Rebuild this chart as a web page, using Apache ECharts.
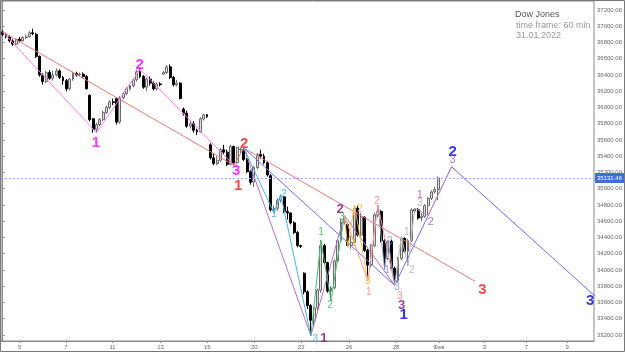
<!DOCTYPE html>
<html>
<head>
<meta charset="utf-8">
<script src="https://cdn.jsdelivr.net/npm/echarts@6/dist/echarts.min.js"></script>
<style>
html,body{margin:0;padding:0;background:#fff;}
#chart{width:625px;height:352px;}
</style>
</head>
<body>
<div id="chart"></div>
<script>
var chart = echarts.init(document.getElementById('chart'));

// hourly bars, index = bar number
var opens = [
36930,36900,36870,36820,36780,36840,36820,36860,36870,36920,
36900,36630,36400,36320,36430,36360,36400,36450,36370,36330,
36230,36350,36420,36400,36410,36380,36150,35860,35730,35790,
35850,35940,36000,36070,36110,35820,36120,36170,36230,36270,
36340,36440,36380,36250,36350,36300,36230,36290,36410,36430,
36500,36370,36280,36300,35980,35930,35770,35800,35720,35700,
35860,35910,35540,35380,35310,35350,35480,35450,35300,35520,
35320,35480,35480,35360,35210,35080,35260,35420,35400,35320,
35160,34740,34760,34860,34900,34720,34700,34580,34460,34300,
33960,33730,33560,33380,33530,33750,34300,34090,33740,33780,
34110,34360,34590,34560,34300,34340,34760,34430,34650,34240,
34060,34300,34680,34720,34360,34140,34350,34020,33870,34140,
34390,34230,34360,34740,34740,34640,34660,34790,34880,34960,
34990];
var closes = [
36900,36870,36820,36780,36840,36820,36860,36870,36920,36910,
36630,36400,36320,36430,36360,36400,36450,36370,36330,36230,
36350,36420,36400,36410,36380,36230,35850,35730,35790,35850,
35940,36000,36070,36060,35820,36120,36170,36230,36270,36340,
36440,36380,36250,36350,36300,36230,36290,36280,36430,36500,
36370,36280,36300,36110,35930,35770,35800,35720,35700,35860,
35910,35890,35380,35310,35350,35480,35450,35300,35520,35320,
35510,35490,35360,35210,35080,35260,35420,35400,35320,35170,
34740,34760,34860,34900,34720,34700,34580,34460,34300,34290,
33730,33560,33380,33530,33750,34300,34090,33740,33780,34110,
34360,34590,34600,34300,34340,34760,34430,34650,34240,34060,
34300,34680,34720,34360,34140,34350,34020,33870,34140,34390,
34230,34360,34740,34730,34640,34660,34790,34880,34960,34990,
35131.46];
var lows = [
36880,36850,36800,36760,36770,36800,36810,36840,36860,36890,
36610,36380,36280,36300,36340,36330,36380,36350,36280,36200,
36210,36330,36380,36380,36360,36220,35830,35690,35690,35770,
35830,35920,35980,36030,35790,35800,36100,36150,36210,36250,
36320,36360,36230,36200,36270,36210,36210,36260,36400,36410,
36350,36260,36260,36100,35900,35750,35740,35690,35660,35690,
35840,35870,35360,35290,35290,35330,35430,35280,35290,35290,
35300,35440,35340,35190,35050,35020,35240,35370,35300,35150,
34720,34700,34730,34830,34700,34620,34560,34440,34280,34270,
33700,33520,33190,33300,33500,33720,34070,33720,33620,33760,
34090,34340,34560,34280,34260,34320,34410,34400,34220,33870,
34030,34280,34650,34340,34000,34120,34000,33810,33850,34120,
34210,34050,34340,34700,34620,34600,34640,34670,34860,34940,
34860];
var highs = [
36950,36920,36890,36840,36850,36870,36880,36900,36940,36970,
36920,36640,36420,36450,36460,36450,36480,36470,36390,36350,
36360,36440,36440,36430,36430,36400,36160,35870,35810,35870,
35960,36020,36090,36110,36120,36140,36190,36250,36290,36360,
36460,36480,36400,36370,36380,36320,36310,36310,36450,36520,
36530,36390,36340,36310,36000,35960,35840,35830,35740,35880,
35920,35920,35560,35440,35400,35500,35540,35480,35540,35530,
35520,35500,35500,35380,35230,35280,35440,35480,35430,35340,
35180,34790,34880,34930,34910,34780,34710,34600,34480,34310,
33970,33750,33580,33550,33770,34370,34320,34100,33800,34130,
34380,34620,34670,34580,34420,34800,34790,34700,34660,34260,
34320,34700,34800,34740,34380,34370,34370,34040,34160,34410,
34400,34380,34760,34760,34760,34700,34810,34900,34980,35020,
35150];
var lastPrice = 35131.46;

var xTickPos = [5.1,18.9,32.8,47.1,61.1,75.1,89.1,103.4,117.4,130.2,143.8,156.3,168.5];
var xTickText = ['5','7','11','13','15','20','22','26','28','Фев','3','7','9'];
var yTicks = [33200,33400,33600,33800,34000,34200,34400,34600,34800,35000,35200,35400,35600,35800,36000,36200,36400,36600,36800,37000,37200];

// wave lines: [bar, price]
var redWave     = [[0,36930],[69,35290],[72,35500],[141,33860]];
var magentaWave = [[0,36930],[28,35690],[41,36470],[69,35290]];
var blueWave    = [[72,35500],[117,33810],[134,35270],[179.3,33585]];
var purpleWave  = [[72,35500],[92,33190],[102,34670],[117,33810]];
var cyanWave    = [[72,35500],[81,34700],[83,34930],[92,33190]];
var greenWave   = [[92,33190],[95,34365],[98,33620],[102,34670]];
var orangeWave  = [[102,34670],[103,34280],[105,34800],[109,33870]];
var salmonWave  = [[102,34670],[109,33870],[112,34800],[117,33810]];
var slateWave   = [[112,34800],[114,34000],[115,34370],[117,33810]];
var grayWave    = [[117,33810],[119,34410],[121,34050],[123,34760]];
var lilacWave   = [[123,34760],[127,34670],[134,35270]];

// wave numbers: [bar, price, text]
var magentaLabels = [[27.8,35566,'1'],[40.9,36519,'2'],[69.7,35219,'3']];
var redLabels     = [[70.3,35034,'1'],[72.1,35554,'2'],[143.2,33758,'3']];
var blueLabels    = [[119.7,33449,'1'],[134.3,35454,'2'],[175.4,33622,'3']];
var purpleLabels  = [[95.9,33152,'1'],[100.7,34749,'2'],[119.1,33560,'3']];
var cyanLabels    = [[81.0,34687,'1'],[84.0,34935,'2'],[93.3,33152,'3']];
var greenLabels   = [[95.0,34464,'1'],[97.7,33560,'2'],[101.3,34650,'3']];
var orangeLabels  = [[104.9,34328,'1'],[106.6,34749,'2'],[109.0,33857,'3']];
var salmonLabels  = [[109.3,33722,'1'],[111.7,34848,'2'],[118.5,33672,'3']];
var slateLabels   = [[114.7,33994,'1'],[115.6,34353,'2'],[117.7,33783,'3']];
var grayLabels    = [[120.6,34464,'1'],[122.1,33994,'2'],[124.5,34823,'3']];
var lilacLabels   = [[124.5,34922,'1'],[127.8,34588,'2'],[134.3,35355,'3']];

var candles = opens.map(function (o, i) {
    return [i, o, closes[i], lows[i], highs[i]];
});

function waveLine(pts, color) {
    return {
        type: 'line', data: pts, symbol: 'none', clip: false, silent: true,
        lineStyle: {color: color, width: 1}, z: 3
    };
}
function waveText(lbls, color, size, bold) {
    return {
        type: 'scatter', data: lbls, symbolSize: 0, silent: true, z: 5, clip: false,
        label: {
            show: true, position: 'inside', color: color, fontSize: size,
            fontWeight: bold ? 'bold' : 'normal', fontFamily: 'Liberation Sans',
            formatter: function (p) { return p.data[2]; }
        }
    };
}

var option = {
    animation: false,
    backgroundColor: '#fff',
    grid: {left: 1, right: 28, top: 1, bottom: 11, show: true, borderColor: '#888', borderWidth: 1},
    xAxis: {
        type: 'value', min: -0.5, max: 176.5,
        splitLine: {show: false},
        axisLine: {lineStyle: {color: '#888'}},
        axisTick: {customValues: xTickPos, length: 2, lineStyle: {color: '#888'}},
        axisLabel: {
            customValues: xTickPos, fontSize: 6, color: '#666', margin: 3,
            fontFamily: 'Liberation Sans',
            formatter: function (v) {
                var k = xTickPos.indexOf(v);
                return k >= 0 ? xTickText[k] : '';
            }
        }
    },
    yAxis: {
        type: 'value', position: 'right', min: 33125, max: 37311, scale: true,
        splitLine: {show: false},
        axisLine: {show: true, lineStyle: {color: '#888'}},
        axisTick: {show: true, customValues: yTicks, length: 2, lineStyle: {color: '#888'}},
        axisLabel: {
            customValues: yTicks, fontSize: 6, color: '#666', margin: 3,
            fontFamily: 'Liberation Sans',
            formatter: function (v) { return v.toFixed(2); }
        }
    },
    graphic: [
        {type: 'rect', shape: {x: 0.5, y: 0.5, width: 624, height: 351}, style: {fill: 'none', stroke: '#777'}, silent: true},
        {type: 'text', left: 515, top: 10, style: {text: 'Dow Jones', fill: '#555', fontSize: 9, fontFamily: 'Liberation Sans'}},
        {type: 'text', left: 516, top: 21, style: {text: 'time frame: 60 min', fill: '#999', fontSize: 9, fontFamily: 'Liberation Sans'}},
        {type: 'text', left: 516, top: 31, style: {text: '31.01.2022', fill: '#999', fontSize: 9, fontFamily: 'Liberation Sans'}}
    ],
    series: [
        {
            type: 'candlestick', data: candles, barWidth: 2.4, z: 2,
            itemStyle: {color: '#dcdcdc', borderColor: '#6c6c6c', color0: '#000', borderColor0: '#000', borderWidth: 1},
            markLine: {
                symbol: 'none', silent: true,
                lineStyle: {color: '#8fa8ff', type: [2, 2], width: 1},
                label: {
                    position: 'end', distance: 1, formatter: lastPrice.toFixed(2),
                    color: '#fff', backgroundColor: '#3c6fd8', fontSize: 6, padding: [2, 2],
                    fontFamily: 'Liberation Sans'
                },
                data: [{yAxis: lastPrice}]
            }
        },
        waveLine(redWave, '#f07777'),
        waveLine(magentaWave, '#ff77ff'),
        waveLine(blueWave, '#6b6bff'),
        waveLine(purpleWave, '#b070c8'),
        waveLine(cyanWave, '#44b4f0'),
        waveLine(greenWave, '#44c070'),
        waveLine(orangeWave, '#ffc040'),
        waveLine(salmonWave, '#ff9a9a'),
        waveLine(slateWave, '#8c9cd0'),
        waveLine(grayWave, '#bbbbbb'),
        waveLine(lilacWave, '#c08ac0'),
        waveText(magentaLabels, '#ff00ff', 15, true),
        waveText(redLabels, '#ee1c1c', 15, true),
        waveText(blueLabels, '#0000ee', 15, true),
        waveText(purpleLabels, '#80107f', 13, true),
        waveText(cyanLabels, '#22a6e8', 10, false),
        waveText(greenLabels, '#2eaa48', 10, false),
        waveText(orangeLabels, '#ffaa00', 10, false),
        waveText(salmonLabels, '#ff7070', 10, false),
        waveText(slateLabels, '#7a8cc0', 10, false),
        waveText(grayLabels, '#a8a8a8', 10, false),
        waveText(lilacLabels, '#a050a8', 11, false)
    ]
};
chart.setOption(option);
</script>
</body>
</html>
